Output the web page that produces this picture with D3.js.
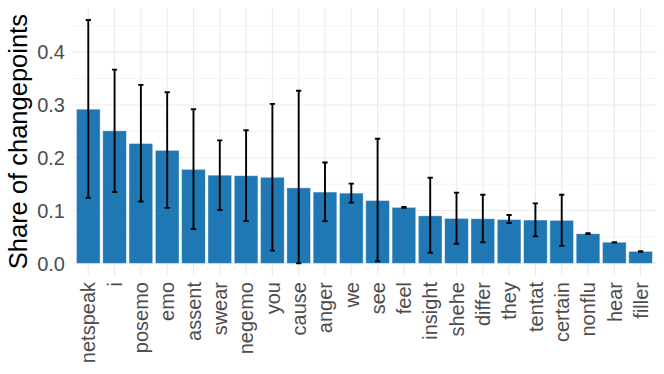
<!DOCTYPE html>
<html>
<head>
<meta charset="utf-8">
<script src="https://cdn.jsdelivr.net/npm/d3@7"></script>
<style>
  body { margin: 0; background: #fff; }
  svg text { font-family: "Liberation Sans", Arial, sans-serif; }
</style>
</head>
<body>
<svg id="chart" width="664" height="374"></svg>
<script>
// Categories and values
const categories = ['netspeak', 'i', 'posemo', 'emo', 'assent', 'swear', 'negemo', 'you', 'cause', 'anger', 'we',
    'see', 'feel', 'insight', 'shehe', 'differ', 'they', 'tentat', 'certain', 'nonflu', 'hear', 'filler']
const shares = [0.292, 0.251, 0.227, 0.214, 0.178, 0.167, 0.166, 0.163, 0.143, 0.135, 0.133,
    0.119, 0.106, 0.090, 0.085, 0.0845, 0.083, 0.082, 0.0814, 0.056, 0.040, 0.0227]
const lower = [0.124, 0.135, 0.117, 0.105, 0.065, 0.101, 0.080, 0.024, 0.000, 0.080, 0.115,
    0.004, 0.105, 0.020, 0.037, 0.040, 0.0763, 0.051, 0.033, 0.0555, 0.0395, 0.022]
const upper = [0.461, 0.367, 0.338, 0.324, 0.292, 0.233, 0.252, 0.302, 0.327, 0.191, 0.151,
    0.236, 0.107, 0.162, 0.134, 0.130, 0.0915, 0.1136, 0.130, 0.057, 0.040, 0.023]
const yTicks = [0, 0.1, 0.2, 0.3, 0.4]
const yMinor = [0.05, 0.15, 0.25, 0.35, 0.45]

const rows = categories.map((c, i) => ({ cat: c, share: shares[i], lo: lower[i], hi: upper[i] }))

// Panel layout
const svg = d3.select('#chart')
const panel = { left: 72.5, right: 656.4, top: 7.8, bottom: 275.5 }

// Scales (ggplot-like 5% expansion on y, 0.6 on discrete x)
const yMax = d3.max(upper), yMin = 0
const pad = (yMax - yMin) * 0.05
const y = d3.scaleLinear().domain([yMin - pad, yMax + pad]).range([panel.bottom, panel.top])
const x = d3.scalePoint().domain(categories).range([panel.left, panel.right]).padding(0.6)
const barW = x.step() * 0.9
const capW = x.step() * 0.2

// Gridlines
const grid = svg.append('g')
grid.selectAll('.minor').data(yMinor).join('line')
    .attr('x1', panel.left).attr('x2', panel.right)
    .attr('y1', d => y(d)).attr('y2', d => y(d))
    .attr('stroke', '#ebebeb').attr('stroke-width', 0.6)
grid.selectAll('.major').data(yTicks).join('line')
    .attr('x1', panel.left).attr('x2', panel.right)
    .attr('y1', d => y(d)).attr('y2', d => y(d))
    .attr('stroke', '#ebebeb').attr('stroke-width', 1.1)
grid.selectAll('.vert').data(categories).join('line')
    .attr('x1', d => x(d)).attr('x2', d => x(d))
    .attr('y1', panel.top).attr('y2', panel.bottom)
    .attr('stroke', '#ebebeb').attr('stroke-width', 1.1)

// Bars
svg.append('g').selectAll('rect').data(rows).join('rect')
    .attr('x', d => x(d.cat) - barW / 2)
    .attr('width', barW)
    .attr('y', d => y(d.share))
    .attr('height', d => y(0) - y(d.share))
    .attr('fill', '#1f77b4')
    .attr('stroke', '#ffffff').attr('stroke-opacity', 0.5).attr('stroke-width', 0.8)

// Error bars
const eb = svg.append('g').attr('stroke', '#000').attr('stroke-width', 1.9).attr('fill', 'none')
eb.selectAll('path').data(rows).join('path')
    .attr('d', d => {
        const cx = x(d.cat), t = y(d.hi), b = y(d.lo)
        return `M${cx - capW / 2},${t}H${cx + capW / 2}M${cx},${t}V${b}M${cx - capW / 2},${b}H${cx + capW / 2}`
    })

// Y axis labels
svg.append('g').selectAll('text').data(yTicks).join('text')
    .attr('x', 65).attr('y', d => y(d)).attr('dy', '0.36em')
    .attr('text-anchor', 'end').attr('fill', '#4d4d4d').attr('font-size', 20)
    .text(d => d3.format('.1f')(d))

// X axis labels (rotated)
svg.append('g').selectAll('text').data(categories).join('text')
    .attr('transform', d => `translate(${x(d)},282) rotate(-90)`)
    .attr('dy', '0.36em')
    .attr('text-anchor', 'end').attr('fill', '#4d4d4d').attr('font-size', 20)
    .text(d => d)

// Y title
svg.append('text')
    .attr('transform', `translate(18,${(panel.top + panel.bottom) / 2}) rotate(-90)`)
    .attr('dy', '0.36em')
    .attr('text-anchor', 'middle').attr('fill', '#000').attr('font-size', 25.5)
    .text('Share of changepoints')
</script>
</body>
</html>
